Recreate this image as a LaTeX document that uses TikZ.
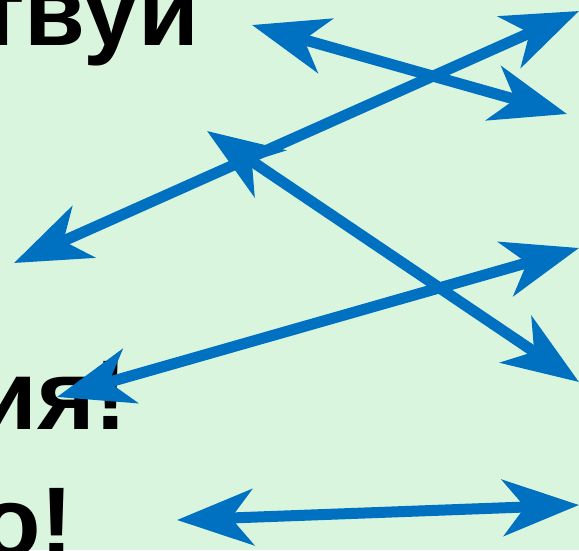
\documentclass[tikz,border=0pt]{standalone}
\usepackage{fontspec}
\setmainfont{Liberation Sans}
\usetikzlibrary{arrows.meta}
\definecolor{slidebg}{RGB}{217,245,222}
\definecolor{arrowblue}{RGB}{0,112,192}
\tikzset{>={Stealth[length=76pt,width=56pt,inset=22pt]}}

\begin{document}
\begin{tikzpicture}[
    x=1pt, y=-1pt,
    word/.style={anchor=base east, inner sep=0pt, font=\fontsize{99}{100}\selectfont\bfseries},
    link/.style={<->, line width=11pt, draw=arrowblue}
]
\fill[slidebg] (0,0) rectangle (579,550);
\clip (0,0) rectangle (579,550);

% words at the left edge
\node[word] (w1) at (199,45) {твуй};
\node[word] (w2) at (128,429) {ия!};
\node[word] (w3) at (74,556) {о!};

% arrow ends
\coordinate (a1) at (252,25);
\coordinate (a2) at (567,114);
\coordinate (b1) at (579,11);
\coordinate (b2) at (14,263);
\coordinate (c1) at (207,131);
\coordinate (c2) at (579,382);
\coordinate (d1) at (579,248);
\coordinate (d2) at (57,397);
\coordinate (e1) at (177,520);
\coordinate (e2) at (579,505);

\draw[link] (a1) -- (a2);
\draw[link] (b1) -- (b2);
\draw[link] (c1) -- (c2);
\draw[link] (d1) -- (d2);
\draw[link] (e1) -- (e2);
\end{tikzpicture}
\end{document}
